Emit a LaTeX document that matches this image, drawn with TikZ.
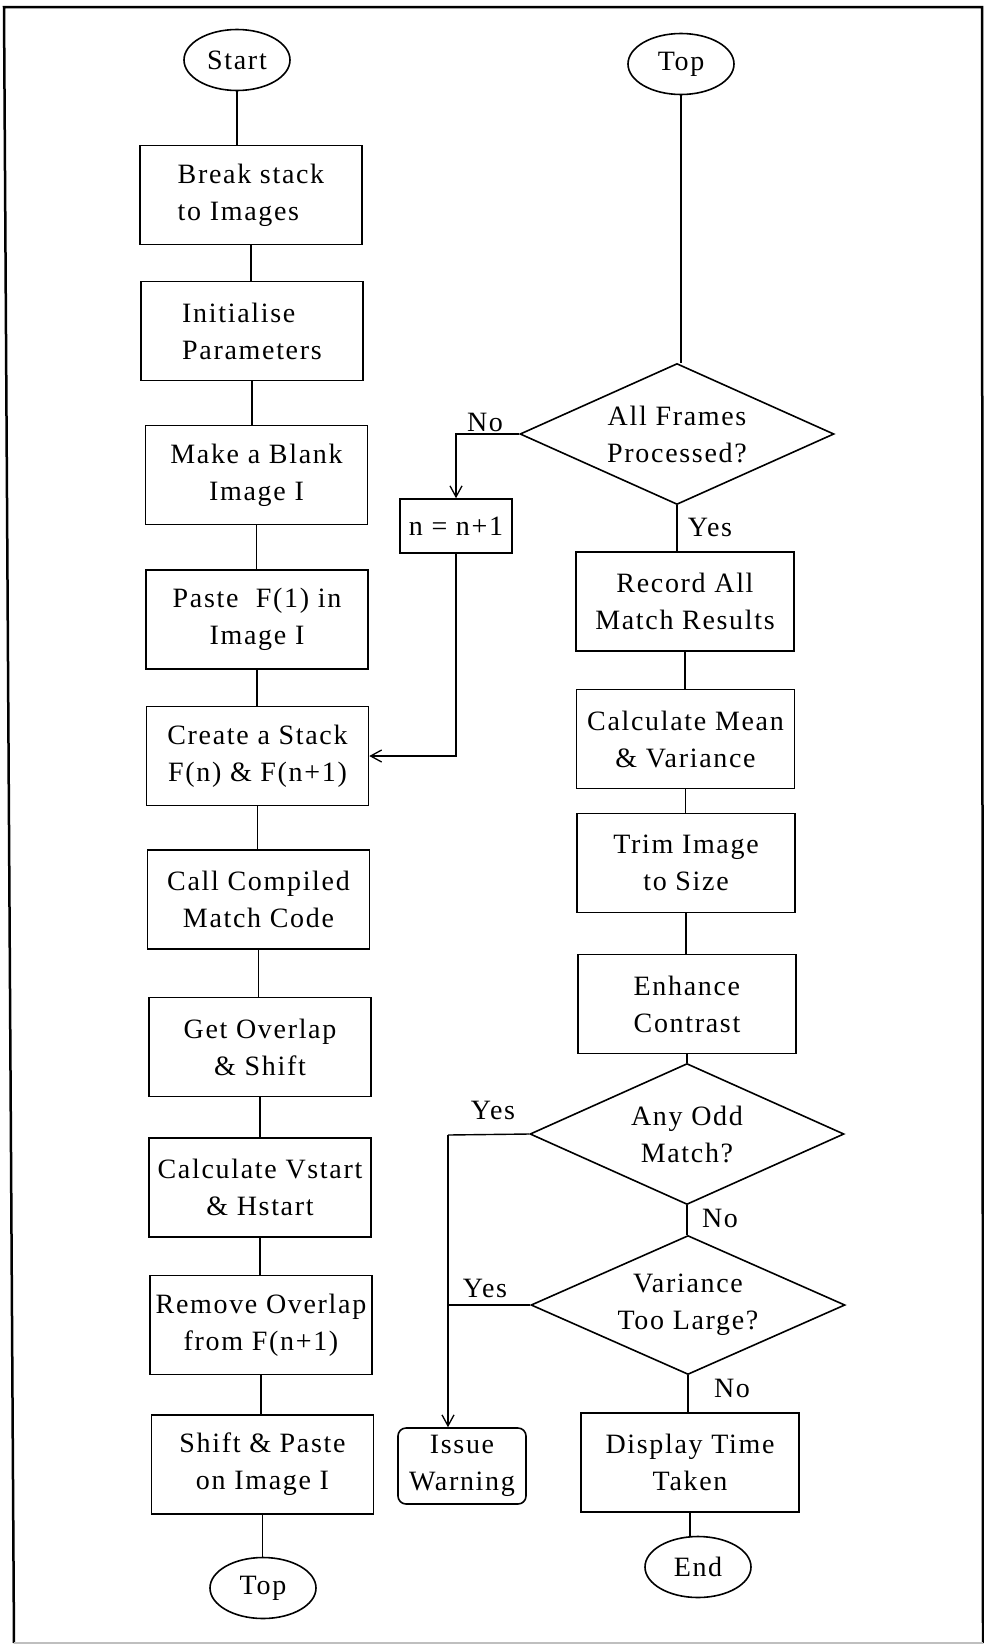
\documentclass[tikz,border=0pt]{standalone}
\usepackage{fontspec}
\setmainfont{Liberation Serif}[LetterSpace=6]
\usetikzlibrary{shapes.geometric,arrows.meta}
\begin{document}
\begin{tikzpicture}[x=1pt,y=-1pt,
  every node/.style={font=\fontsize{28}{37}\selectfont, inner sep=0pt},
  shapeline/.style={draw, line width=1.6pt},
  proc/.style={shapeline, rectangle, minimum width=222pt, minimum height=99pt, align=center},
  rproc/.style={proc, minimum width=218pt},
  smallbox/.style={shapeline, rectangle, minimum width=112pt, minimum height=54pt},
  warnbox/.style={shapeline, rectangle, rounded corners=8pt, minimum width=128pt, minimum height=76pt, align=center},
  term/.style={shapeline, ellipse, minimum width=106pt, minimum height=61pt},
  dec/.style={shapeline, diamond, aspect=2.2, minimum width=314pt, minimum height=141pt, align=center},
  lbl/.style={},
  conn/.style={line width=1.4pt},
  arr/.style={conn, -{Straight Barb[length=11pt,width=12pt,line width=1.3pt]}},
  border/.style={line width=2.5pt}
]
\useasboundingbox (0,0) rectangle (984,1649);

% page frame
\draw[border] (14,1643) -- (4,7) -- (982,7) -- (983,1643);
\draw[line width=1.5pt, black!25] (14,1643) -- (983,1643);

% ---- left column: building the mosaic ----
\node[term] (start) at (237,60) {Start};
\node[proc, align=left] (brk) at (251,195) {Break stack\\to Images};
\node[proc, align=left] (ini) at (252,331) {Initialise\\Parameters};
\node[proc] (mk)  at (256.5,475)  {Make a Blank\\Image I};
\node[proc] (pst) at (257,619.5)  {Paste\ \ F(1) in\\Image I};
\node[proc] (cre) at (257.5,756)  {Create a Stack\\F(n) \& F(n+1)};
\node[proc] (cal) at (258.5,899.5) {Call Compiled\\Match Code};
\node[proc] (gov) at (260,1047)   {Get Overlap\\\& Shift};
\node[proc] (cvs) at (260,1187.5) {Calculate Vstart\\\& Hstart};
\node[proc] (rmo) at (261,1325)   {Remove Overlap\\from F(n+1)};
\node[proc] (shp) at (262.5,1464.5) {Shift \& Paste\\on Image I};
\node[term] (topL) at (263,1588) {Top};

% ---- right column: loop test and final checks ----
\node[term] (topR) at (681,64) {Top};
\node[dec] (af) at (677,434) {All Frames\\Processed?};
\node[smallbox] (inc) at (456,526) {n = n+1};
\node[rproc] (rec) at (685,601.5) {Record All\\Match Results};
\node[rproc] (cmv) at (685.5,739) {Calculate Mean\\\& Variance};
\node[rproc] (trm) at (686,863)   {Trim Image\\to Size};
\node[rproc, align=left] (enh) at (687,1004) {Enhance\\Contrast};
\node[dec] (odd) at (687,1134) {Any Odd\\Match?};
\node[dec, minimum height=139pt] (var) at (688,1305) {Variance\\Too Large?};
\node[rproc] (disp) at (690,1462.5) {Display Time\\Taken};
\node[warnbox] (warn) at (462,1466) {Issue\\Warning};
\node[term] (fin) at (698,1567) {End};

% branch labels
\node[lbl] (lnoA)  at (485,422)  {No};
\node[lbl] (lyesA) at (710,527)  {Yes};
\node[lbl] (lyesB) at (493,1110) {Yes};
\node[lbl] (lnoB)  at (720,1218) {No};
\node[lbl] (lyesC) at (485,1288) {Yes};
\node[lbl] (lnoC)  at (732,1388) {No};

% ---- connectors ----
\draw[conn] (start.south) -- (start.south |- brk.north);
\foreach \a/\b in {brk/ini, ini/mk, mk/pst, pst/cre, cre/cal, cal/gov, gov/cvs, cvs/rmo, rmo/shp, shp/topL}
  \draw[conn] (\a.south) -- (\a.south |- \b.north);

\draw[conn] (topR.south) -- (topR.south |- af.north);
\draw[conn] (af.south) -- (af.south |- rec.north);
\draw[arr] (af.west) -| (inc.north);
\draw[arr] (inc.south) |- (cre.east);
\foreach \a/\b in {rec/cmv, cmv/trm, trm/enh, enh/odd, odd/var, var/disp, disp/fin}
  \draw[conn] (\a.south) -- (\a.south |- \b.north);

\coordinate (jn) at (448,1135);
\draw[conn] (odd.west) -- (jn);
\draw[arr] (jn) -- (jn |- warn.north);
\draw[conn] (var.west) -- (var.west -| jn);
\end{tikzpicture}
\end{document}
